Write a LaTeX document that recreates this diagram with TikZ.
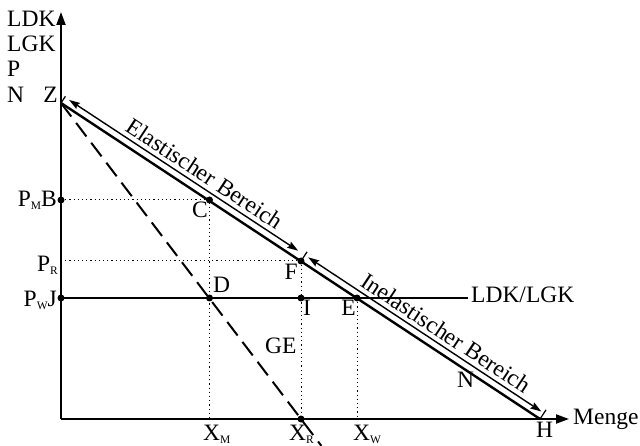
\documentclass[tikz,border=0pt]{standalone}
\usepackage{fontspec}
\setmainfont{Liberation Serif}
\usetikzlibrary{arrows.meta, calc}

\newcommand{\idx}[1]{\raisebox{-3pt}{\fontsize{11.5}{12}\selectfont #1}}

\begin{document}
\begin{tikzpicture}[x=1pt, y=-1pt, font=\fontsize{23.5}{27}\selectfont,
    axisline/.style={line width=2pt, -{Triangle[length=13pt,width=9pt]}},
    demand/.style={line width=2.4pt},
    guideline/.style={line width=1pt, dash pattern=on 1.2pt off 3pt},
    bereich/.style={line width=1.4pt,
      {Stealth[length=11pt,width=7pt,inset=1.5pt]}-{Stealth[length=11pt,width=7pt,inset=1.5pt]}},
    endmark/.style={line width=1.2pt},
    lbl/.style={inner sep=0pt}]

  \useasboundingbox (0,0) rectangle (640,446);

  % points
  \coordinate (O) at (61,419);
  \coordinate (Ytop) at (61,12);
  \coordinate (Xend) at (569,419);
  \coordinate (Z) at (61,103);
  \coordinate (H) at (540,419);
  \coordinate (B) at (61,200);
  \coordinate (C) at (209.5,200);
  \coordinate (PR) at (61,261);
  \coordinate (F) at (301,261);
  \coordinate (J) at (61,298);
  \coordinate (D) at (209.5,298);
  \coordinate (I) at (301,298);
  \coordinate (E) at (357,298);
  \coordinate (Lend) at (468,298);
  \coordinate (XM) at (209.5,419);
  \coordinate (XR) at (301,419);
  \coordinate (XW) at (357,419);

  % axes
  \draw[axisline] (O) -- (Ytop);
  \draw[axisline] (O) -- (Xend);

  % guide lines
  \draw[guideline] (B) -- (C) -- (XM);
  \draw[guideline] (PR) -- (F) -- (XR);
  \draw[guideline] (E) -- (XW);

  % LDK/LGK and demand curves
  \draw[line width=2pt] (J) -- (Lend);
  \draw[line width=2pt, dash pattern=on 17pt off 8pt] (Z) -- ($(Z)!1.085!(XR)$);
  \draw[demand] (Z) -- (H);

  % ticks on the demand curve
  \draw[endmark] (Z) -- ($(Z)!8pt!90:(H)$);
  \draw[endmark] (F) -- ($(F)!11pt!90:(H)$);
  \draw[endmark] (H) -- ($(H)!11pt!-90:(Z)$);

  % ranges
  \coordinate (Zo) at ($(Z)!7pt!90:(H)$);
  \coordinate (Fo) at ($(F)!7pt!90:(H)$);
  \coordinate (Ho) at ($(H)!7pt!-90:(Z)$);
  \draw[bereich] ($(Zo)!5pt!(Fo)$) -- ($(Fo)!8pt!(Zo)$)
    node[pos=0.56, above=4pt, sloped, lbl] (elast) {Elastischer Bereich};
  \draw[bereich] ($(Fo)!4pt!(Ho)$) -- ($(Ho)!3pt!(Fo)$)
    node[pos=0.56, above=4pt, sloped, lbl] (inelast) {Inelastischer Bereich};

  % dots
  \foreach \p in {B,C,F,J,D,I,E,XR}
    \fill (\p) circle[radius=3.5pt];

  % labels
  \foreach \txt/\yy in {LDK/27, LGK/52, P/77, N/103}
    \node[anchor=base west, lbl] (ax\txt) at (7,\yy) {\txt};
  \node[anchor=base east, lbl] (labZ) at (58,103) {Z};
  \node[anchor=base east, lbl] (labB) at (57,207) {P\idx{M}B};
  \node[anchor=base east, lbl] (labPR) at (58,272) {P\idx{R}};
  \node[anchor=base east, lbl] (labJ) at (57,307) {P\idx{W}J};
  \node[anchor=base east, lbl] (labC) at (208,218) {C};
  \node[anchor=base west, lbl] (labD) at (213,293) {D};
  \node[anchor=base east, lbl] (labF) at (298,280) {F};
  \node[anchor=base west, lbl] (labI) at (303,316) {I};
  \node[anchor=base east, lbl] (labE) at (356,316) {E};
  \node[anchor=base west, lbl] (labL) at (471,303) {LDK/LGK};
  \node[anchor=base west, lbl] (labGE) at (265,354) {GE};
  \node[anchor=base west, lbl] (labN) at (457,388) {N};
  \node[anchor=base west, lbl] (labH) at (536,437) {H};
  \node[anchor=base west, lbl] (labM) at (573,424) {Menge};
  \node[anchor=base west, lbl] (labXM) at (203,440) {X\idx{M}};
  \node[anchor=base west, lbl] (labXR) at (289,440) {X\idx{R}};
  \node[anchor=base west, lbl] (labXW) at (353,440) {X\idx{W}};
\end{tikzpicture}
\end{document}
